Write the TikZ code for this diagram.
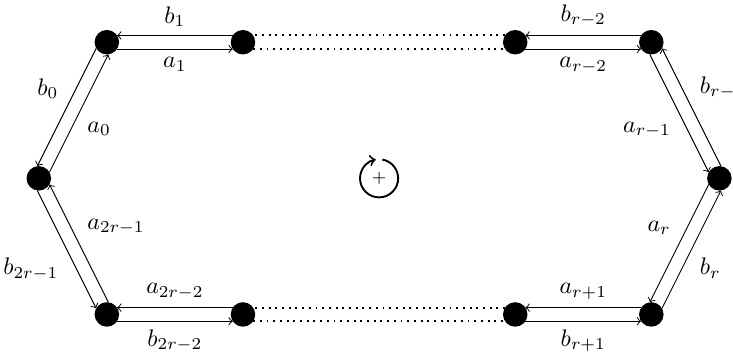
\documentclass[tikz,border=0pt]{standalone}
\usepackage{amsmath,amssymb}
\usepackage{tikz}
\usetikzlibrary{calc}
\tikzset{
  vtx/.style={circle,fill=black,inner sep=0pt,minimum size=3.6mm},
  flow/.style={->,shorten <=1.5mm,shorten >=1.5mm},
  gap/.style={thick,dotted,shorten <=1.5mm,shorten >=1.5mm},
  turn/.style={->,thick}
}
\begin{document}
\begin{tikzpicture}
\useasboundingbox (-5.57,-2.68) rectangle (5.20,2.62);
\node[vtx] (v0) at (-4,2) {};
\node[vtx] (v1) at (-2,2) {};
\node[vtx] (v2) at (2,2) {};
\node[vtx] (v3) at (4,2) {};
\node[vtx] (v4) at (5,0) {};
\node[vtx] (v5) at (4,-2) {};
\node[vtx] (v6) at (2,-2) {};
\node[vtx] (v7) at (-2,-2) {};
\node[vtx] (v8) at (-4,-2) {};
\node[vtx] (v9) at (-5,0) {};
\node[font=\scriptsize] (sign) at (0,0) {$+$};
% orientation mark
\draw[turn] ([shift={(80:2.8mm)}]sign.center) arc[start angle=80,end angle=-260,radius=2.8mm];
% left upper side
\draw[flow] ($(v9)!1mm!-90:(v0)$) -- node[below right] {$a_0$} ($(v0)!1mm!90:(v9)$);
\draw[flow] ($(v0)!1mm!-90:(v9)$) -- node[above left] {$b_0$} ($(v9)!1mm!90:(v0)$);
% top
\draw[flow] ($(v0)!1mm!-90:(v1)$) -- node[below] {$a_1$} ($(v1)!1mm!90:(v0)$);
\draw[flow] ($(v1)!1mm!-90:(v0)$) -- node[above] {$b_1$} ($(v0)!1mm!90:(v1)$);
\draw[gap] ($(v1)!1mm!-90:(v2)$) -- ($(v2)!1mm!90:(v1)$);
\draw[gap] ($(v2)!1mm!-90:(v1)$) -- ($(v1)!1mm!90:(v2)$);
\draw[flow] ($(v2)!1mm!-90:(v3)$) -- node[below] {$a_{r-2}$} ($(v3)!1mm!90:(v2)$);
\draw[flow] ($(v3)!1mm!-90:(v2)$) -- node[above] {$b_{r-2}$} ($(v2)!1mm!90:(v3)$);
% right side
\draw[flow] ($(v3)!1mm!-90:(v4)$) -- node[below left] {$a_{r-1}$} ($(v4)!1mm!90:(v3)$);
\draw[flow] ($(v4)!1mm!-90:(v3)$) -- node[above right] {$b_{r-1}$} ($(v3)!1mm!90:(v4)$);
\draw[flow] ($(v4)!1mm!-90:(v5)$) -- node[above left] {$a_r$} ($(v5)!1mm!90:(v4)$);
\draw[flow] ($(v5)!1mm!-90:(v4)$) -- node[below right] {$b_r$} ($(v4)!1mm!90:(v5)$);
% bottom
\draw[flow] ($(v5)!1mm!-90:(v6)$) -- node[above] {$a_{r+1}$} ($(v6)!1mm!90:(v5)$);
\draw[flow] ($(v6)!1mm!-90:(v5)$) -- node[below] {$b_{r+1}$} ($(v5)!1mm!90:(v6)$);
\draw[gap] ($(v6)!1mm!-90:(v7)$) -- ($(v7)!1mm!90:(v6)$);
\draw[gap] ($(v7)!1mm!-90:(v6)$) -- ($(v6)!1mm!90:(v7)$);
\draw[flow] ($(v7)!1mm!-90:(v8)$) -- node[above] {$a_{2r-2}$} ($(v8)!1mm!90:(v7)$);
\draw[flow] ($(v8)!1mm!-90:(v7)$) -- node[below] {$b_{2r-2}$} ($(v7)!1mm!90:(v8)$);
% left lower side
\draw[flow] ($(v8)!1mm!-90:(v9)$) -- node[above right] {$a_{2r-1}$} ($(v9)!1mm!90:(v8)$);
\draw[flow] ($(v9)!1mm!-90:(v8)$) -- node[below left] {$b_{2r-1}$} ($(v8)!1mm!90:(v9)$);
\end{tikzpicture}
\end{document}
